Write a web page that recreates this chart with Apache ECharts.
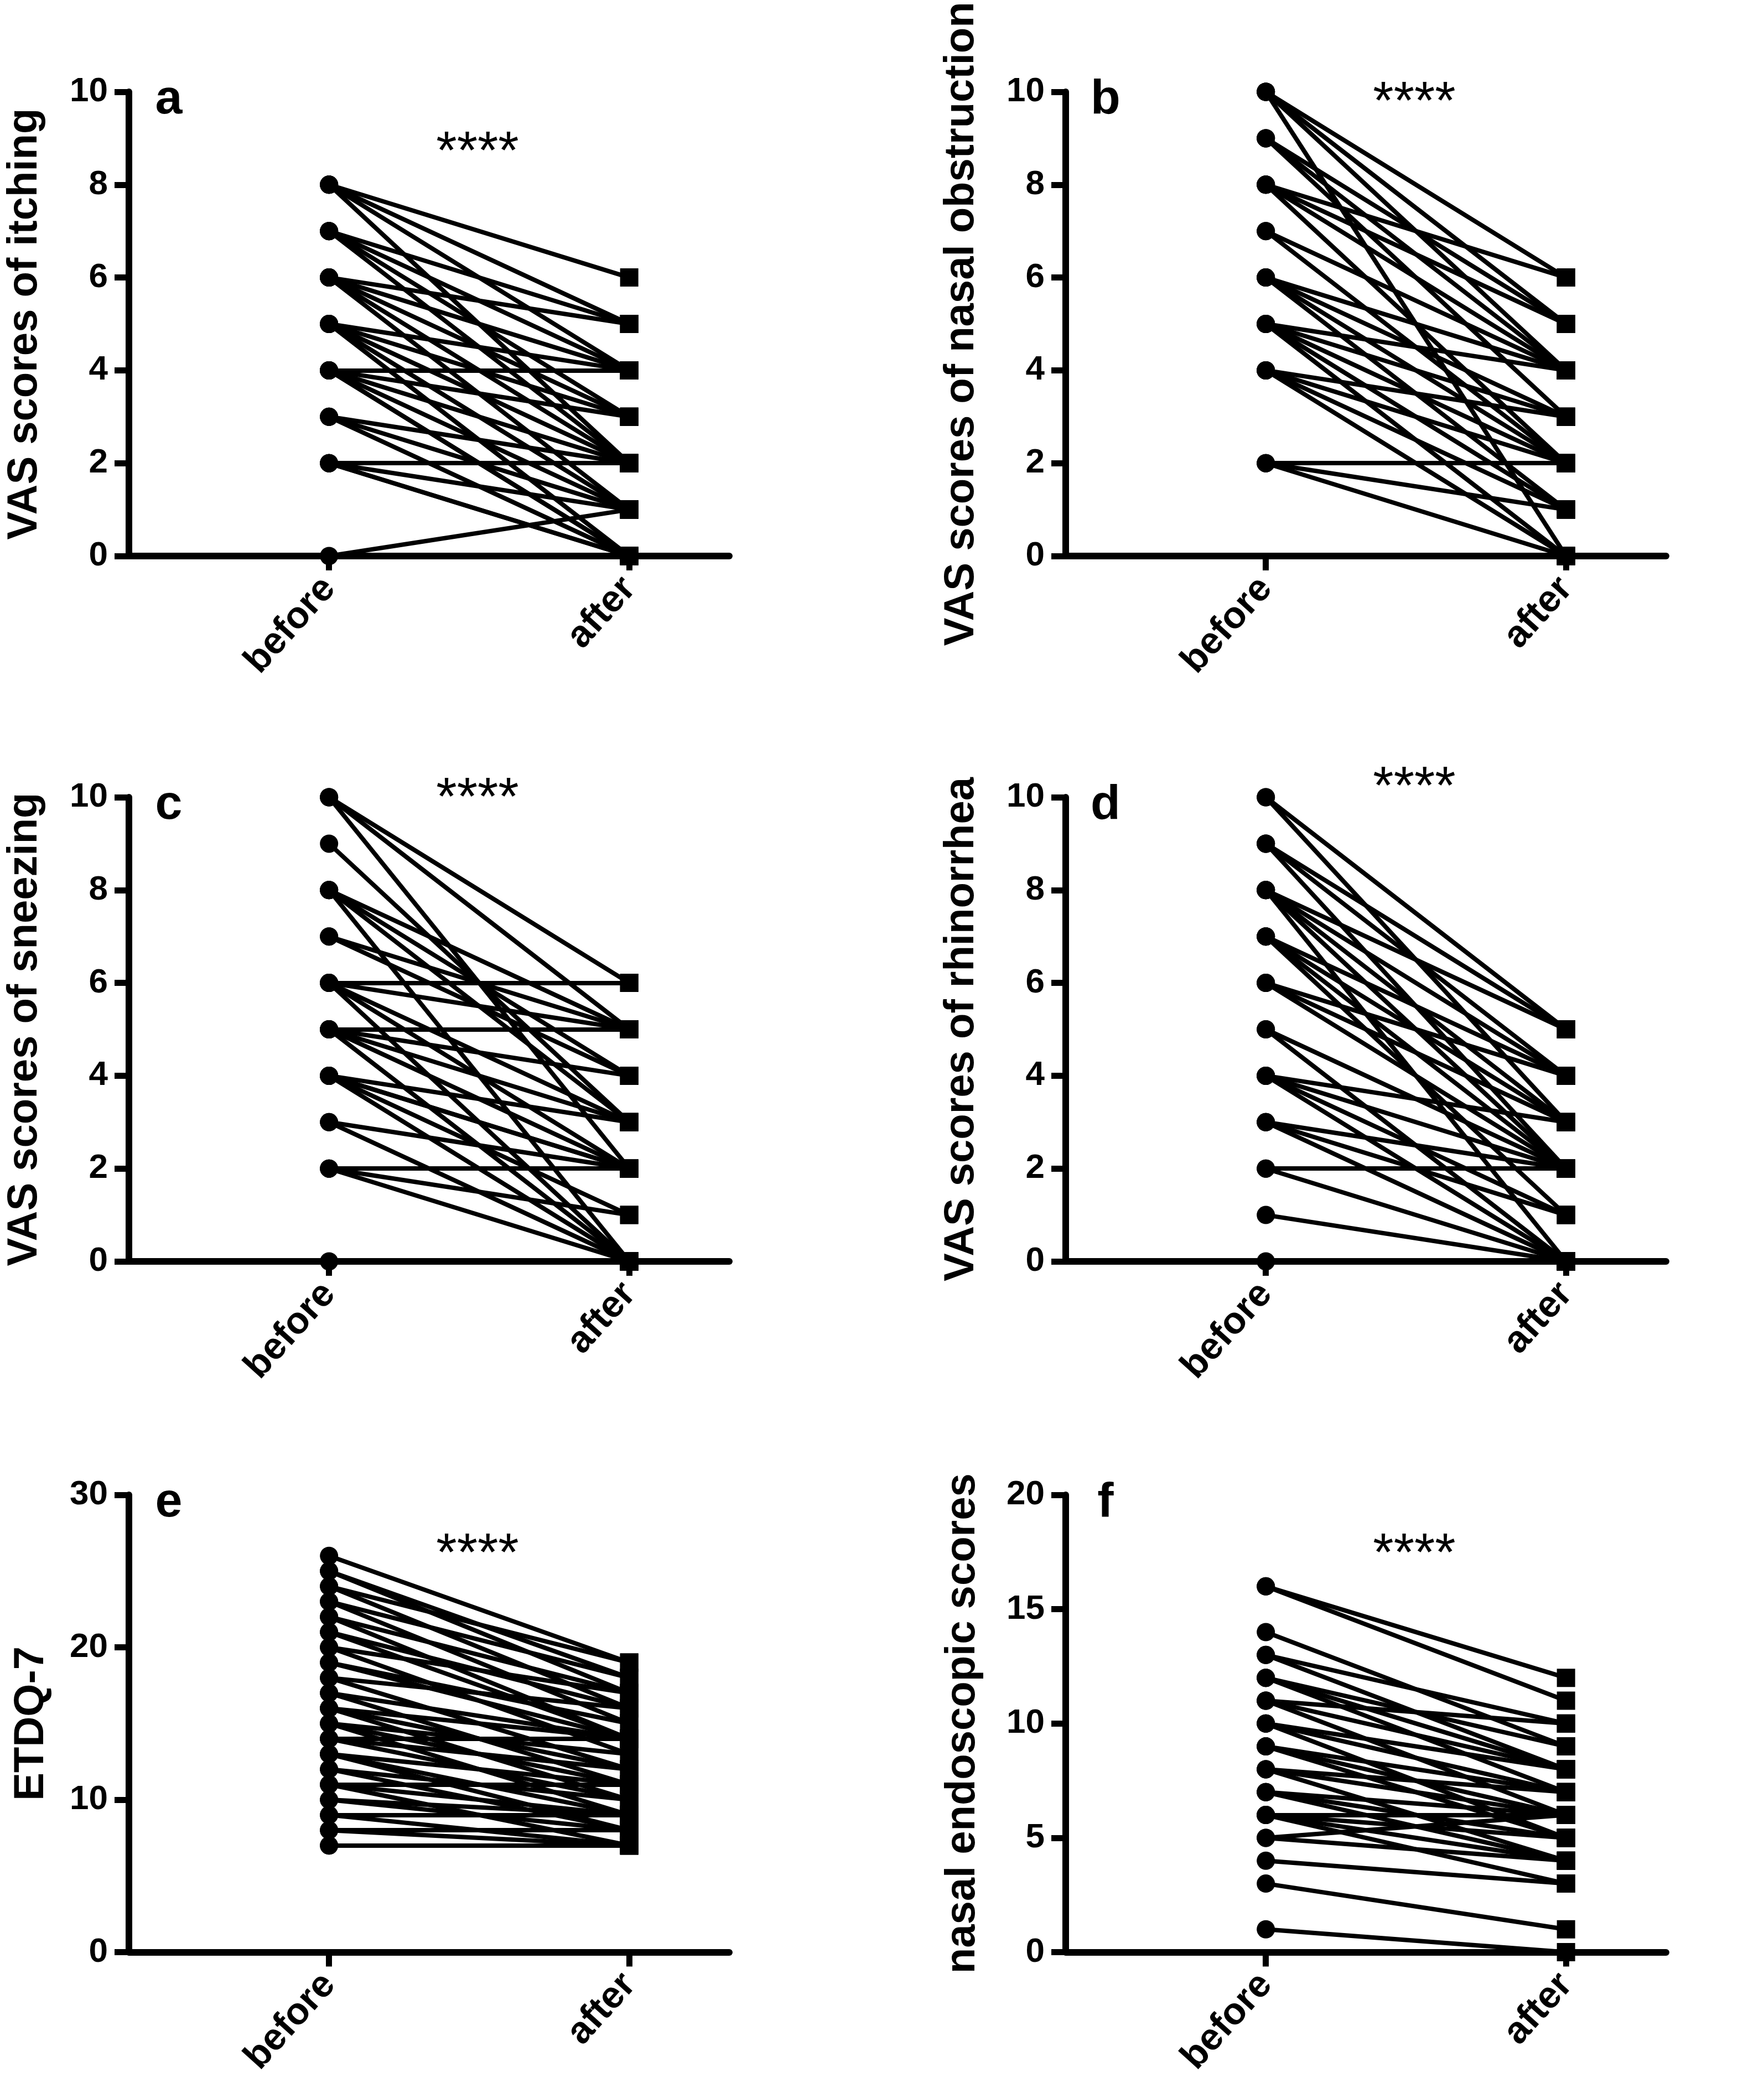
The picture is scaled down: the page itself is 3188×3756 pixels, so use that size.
<!DOCTYPE html>
<html><head><meta charset="utf-8">
<script src="https://cdn.jsdelivr.net/npm/echarts@6/dist/echarts.min.js"></script>
<style>html,body{margin:0;padding:0;background:#fff}#c{width:3188px;height:3756px}</style>
</head><body><div id="c"></div>
<script>
// ---- data ----
const categories = ['before', 'after'];

const itchBefore = [8,8,8,8,7,7,7,7,6,6,6,6,6,5,5,5,5,5,4,4,4,4,4,4,3,3,3,2,2,2,2,0];
const itchAfter  = [6,5,4,2,5,4,3,2,5,4,3,2,1,4,3,2,1,0,4,3,2,1,0,0,2,1,0,2,1,0,0,1];

const noseBefore = [10,10,10,10,9,9,9,8,8,8,8,7,7,6,6,6,6,5,5,5,5,5,4,4,4,4,2,2,2];
const noseAfter  = [6,5,4,0,5,4,3,6,5,4,2,4,2,4,3,2,1,4,3,2,1,0,3,2,1,0,2,1,0];

const sneezeBefore = [10,10,10,9,8,8,8,8,7,7,6,6,6,6,6,5,5,5,5,5,4,4,4,4,4,3,3,2,2,2,0];
const sneezeAfter  = [6,5,2,3,5,4,3,0,5,4,6,5,3,2,0,5,4,3,2,0,3,2,2,1,0,2,0,2,1,0,0];

const rhinoBefore = [10,10,9,9,9,8,8,8,8,8,7,7,7,7,6,6,6,5,5,4,4,4,4,3,3,3,2,2,1,0];
const rhinoAfter  = [5,3,5,4,2,5,4,3,2,0,4,3,2,1,4,3,2,2,0,3,2,1,0,2,1,0,2,0,0,0];

const etdqBefore = [26,25,25,24,24,23,23,22,22,21,21,20,20,19,19,18,18,17,17,16,16,16,15,15,15,14,14,14,13,13,13,12,12,11,11,11,10,10,9,9,8,8,7,7];
const etdqAfter  = [19,18,17,19,16,18,15,17,14,16,14,17,13,15,14,16,12,14,11,14,12,10,13,11,9,14,12,10,11,9,8,10,8,11,9,7,9,8,9,7,8,7,7,7];

const endoBefore = [16,16,14,13,13,12,12,12,11,11,11,10,10,10,9,9,9,8,8,8,7,7,7,6,6,6,6,5,5,4,3,1];
const endoAfter  = [12,11,9,10,8,9,8,7,10,8,6,8,7,5,7,6,5,7,6,4,6,5,4,6,5,4,3,6,4,3,1,0];

const yTitles = ['VAS scores of itching','VAS scores of nasal obstruction','VAS scores of sneezing','VAS scores of rhinorrhea','ETDQ-7','nasal endoscopic scores'];
const panelLetters = ['a','b','c','d','e','f'];
const yMax = [10,10,10,10,30,20];
const yStep = [2,2,2,2,10,5];
const signif = '****';

// ---- layout ----
const befores = [itchBefore, noseBefore, sneezeBefore, rhinoBefore, etdqBefore, endoBefore];
const afters = [itchAfter, noseAfter, sneezeAfter, rhinoAfter, etdqAfter, endoAfter];
const catX = [1, 2.5];
const layout = [
  {left:233, top:166, h:839, gap:150, starY:278},
  {left:1926, top:166, h:839, gap:150, starY:188},
  {left:233, top:1441, h:839, gap:150, starY:1446},
  {left:1926, top:1441, h:839, gap:150, starY:1426},
  {left:233, top:2702, h:839, gap:138, starY:2812},
  {left:1926, top:2702, h:839, gap:148, starY:2812}
];
const GW = 1085;
const FONT = '"Liberation Sans", Arial, Helvetica, sans-serif';

const grid = [], xAxis = [], yAxis = [], series = [], graphic = [];
layout.forEach((L, i) => {
  grid.push({left:L.left, top:L.top, width:GW, height:L.h, containLabel:false});
  xAxis.push({
    type:'value', gridIndex:i, min:0, max:3,
    axisLine:{show:true, onZero:false, lineStyle:{color:'#000', width:12}},
    axisTick:{show:true, customValues:catX, length:26, lineStyle:{color:'#000', width:11}},
    axisLabel:{show:true, customValues:catX, rotate:48, margin:48,
      formatter: v => categories[catX.indexOf(v)] || '',
      color:'#000', fontSize:68, fontWeight:'bold', fontFamily:FONT},
    splitLine:{show:false}
  });
  yAxis.push({
    type:'value', gridIndex:i, min:0, max:yMax[i], interval:yStep[i],
    name: yTitles[i], nameLocation:'middle', nameGap:L.gap, nameRotate:90,
    nameTextStyle:{color:'#000', fontSize:76, fontWeight:'bold', fontFamily:FONT},
    axisLine:{show:true, lineStyle:{color:'#000', width:12}},
    axisTick:{show:true, length:26, lineStyle:{color:'#000', width:11}},
    axisLabel:{color:'#000', fontSize:62, fontWeight:'bold', fontFamily:FONT, margin:38},
    splitLine:{show:false}
  });
  const b = befores[i], a = afters[i];
  series.push({
    type:'lines', coordinateSystem:'cartesian2d', xAxisIndex:i, yAxisIndex:i, silent:true,
    lineStyle:{color:'#000', width:8, opacity:1},
    data: b.map((v, j) => ({coords:[[catX[0], v], [catX[1], a[j]]]}))
  });
  series.push({
    type:'scatter', xAxisIndex:i, yAxisIndex:i, symbol:'circle', symbolSize:33, silent:true,
    itemStyle:{color:'#000', opacity:1}, data: b.map(v => [catX[0], v])
  });
  series.push({
    type:'scatter', xAxisIndex:i, yAxisIndex:i, symbol:'rect', symbolSize:33, silent:true,
    itemStyle:{color:'#000', opacity:1}, data: a.map(v => [catX[1], v])
  });
  graphic.push({type:'text', x:L.left + 72, y:L.top + 15, style:{text:panelLetters[i], font:'bold 88px ' + FONT, fill:'#000', textAlign:'center', textVerticalAlign:'middle'}});
  graphic.push({type:'text', x:L.left + 630, y:L.starY, style:{text:signif, font:'96px ' + FONT, fill:'#000', textAlign:'center', textVerticalAlign:'middle'}});
});

const chart = echarts.init(document.getElementById('c'), null, {renderer:'canvas'});
chart.setOption({animation:false, backgroundColor:'#fff', grid, xAxis, yAxis, series, graphic});
</script></body></html>
